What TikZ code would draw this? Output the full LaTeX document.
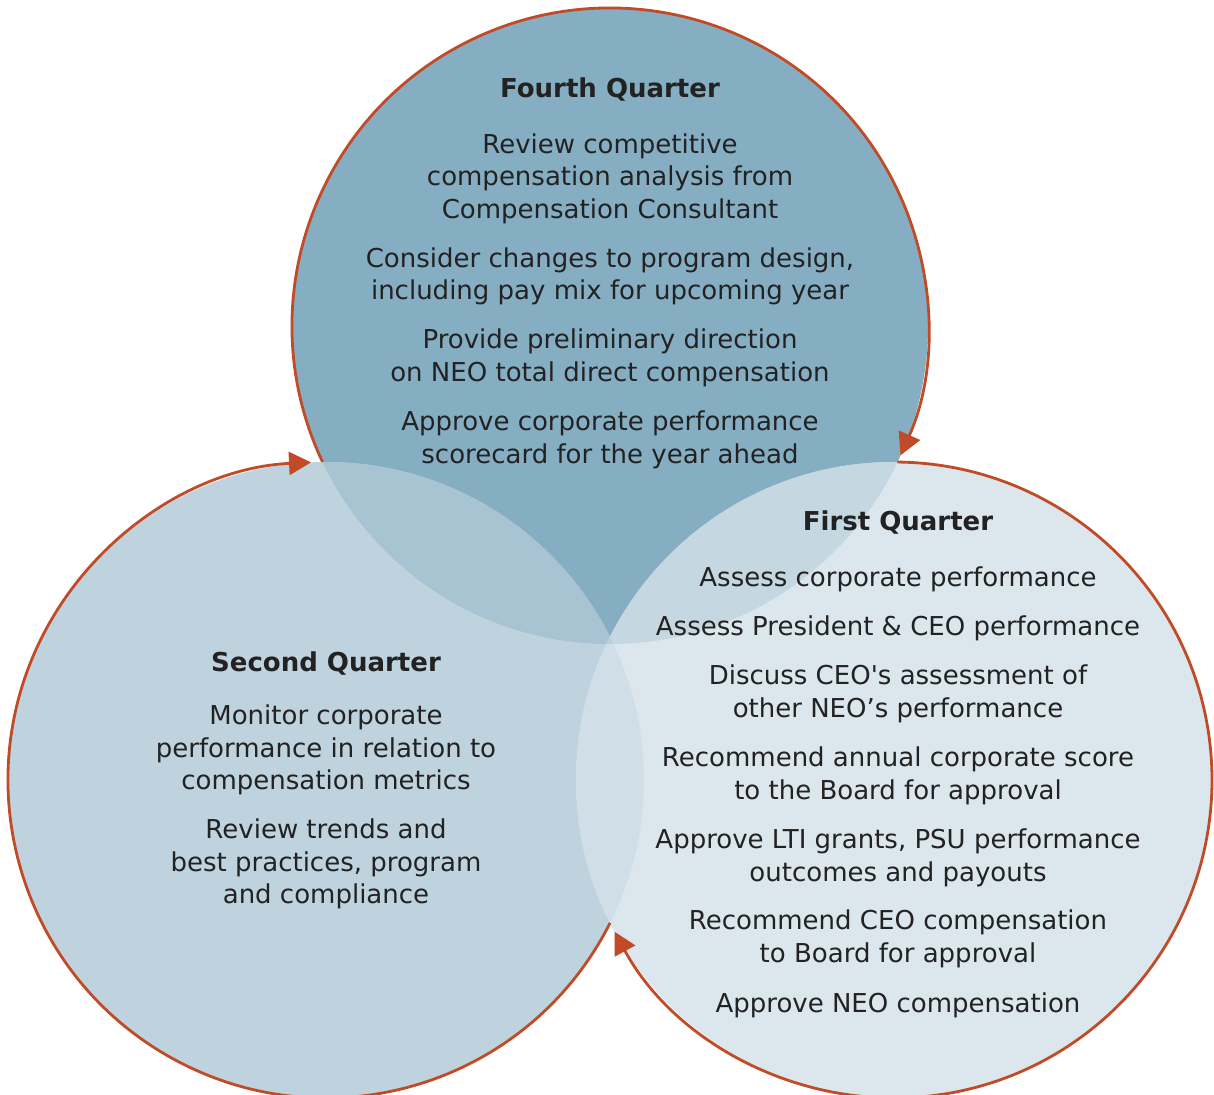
\documentclass[tikz,border=0pt]{standalone}
\usepackage{fontspec}
\setmainfont{DejaVu Sans}
\usetikzlibrary{arrows.meta}
\definecolor{cT}{HTML}{86AEC3}
\definecolor{cL}{HTML}{BFD3DE}
\definecolor{cR}{HTML}{DCE6ED}
\definecolor{cTL}{HTML}{A8C3D2}
\definecolor{cTR}{HTML}{C5D7E1}
\definecolor{cLR}{HTML}{D0DFE7}
\definecolor{cTLR}{HTML}{BCD0DB}
\definecolor{arccol}{HTML}{C24B27}
\definecolor{txt}{HTML}{222222}
\tikzset{
  head/.style={font=\bfseries\fontsize{26}{30}\selectfont, text=txt, inner sep=0pt},
  body/.style={font=\fontsize{26}{32.5}\selectfont, align=center, text=txt, inner sep=0pt},
  cyc/.style={draw=arccol, line width=2.8pt, -{Triangle[length=22pt,width=23pt]}}
}
\begin{document}
\begin{tikzpicture}[x=1pt,y=-1pt]
\useasboundingbox (0,0) rectangle (1214,1094);
\coordinate (T) at (610,326);
\coordinate (L) at (326,780);
\coordinate (R) at (894,780);
% base fills
\fill[cT] (T) circle[radius=318];
\fill[cL] (L) circle[radius=318];
\fill[cR] (R) circle[radius=318];
% overlaps
\begin{scope}\clip (T) circle[radius=318]; \fill[cTL] (L) circle[radius=318];\end{scope}
\begin{scope}\clip (T) circle[radius=318]; \fill[cTR] (R) circle[radius=318];\end{scope}
\begin{scope}\clip (L) circle[radius=318]; \fill[cLR] (R) circle[radius=318];\end{scope}
\begin{scope}\clip (T) circle[radius=318]; \clip (L) circle[radius=318]; \fill[cTLR] (R) circle[radius=318];\end{scope}
% cycle arcs
\draw[cyc] ([shift={(154.7:318)}]T) arc[start angle=154.7, end angle=384.0, radius=318];
\draw[cyc] ([shift={(-89.4:318)}]R) arc[start angle=-89.4, end angle=151.5, radius=318];
\draw[cyc] ([shift={(26.7:318)}]L) arc[start angle=26.7, end angle=267.3, radius=318];
% texts: Fourth Quarter
\node[head] (t0) at (610,90) {Fourth Quarter};
\node[body] (t1) at (610,178.5) {Review competitive\\compensation analysis from\\Compensation Consultant};
\node[body] (t2) at (610,276.5) {Consider changes to program design,\\including pay mix for upcoming year};
\node[body] (t3) at (610,358) {Provide preliminary direction\\on NEO total direct compensation};
\node[body] (t4) at (610,440) {Approve corporate performance\\scorecard for the year ahead};
% First Quarter
\node[head] (r0) at (898,523) {First Quarter};
\node[body] (r1) at (898,579) {Assess corporate performance};
\node[body] (r2) at (898,628) {Assess President \& CEO performance};
\node[body] (r3) at (898,694) {Discuss CEO\textquotesingle s assessment of\\other NEO’s performance};
\node[body] (r4) at (898,776) {Recommend annual corporate score\\to the Board for approval};
\node[body] (r5) at (898,858) {Approve LTI grants, PSU performance\\outcomes and payouts};
\node[body] (r6) at (898,939) {Recommend CEO compensation\\to Board for approval};
\node[body] (r7) at (898,1005) {Approve NEO compensation};
% Second Quarter
\node[head] (l0) at (326,664) {Second Quarter};
\node[body] (l1) at (326,750) {Monitor corporate\\performance in relation to\\compensation metrics};
\node[body] (l2) at (326,864) {Review trends and\\best practices, program\\and compliance};
\end{tikzpicture}
\end{document}
